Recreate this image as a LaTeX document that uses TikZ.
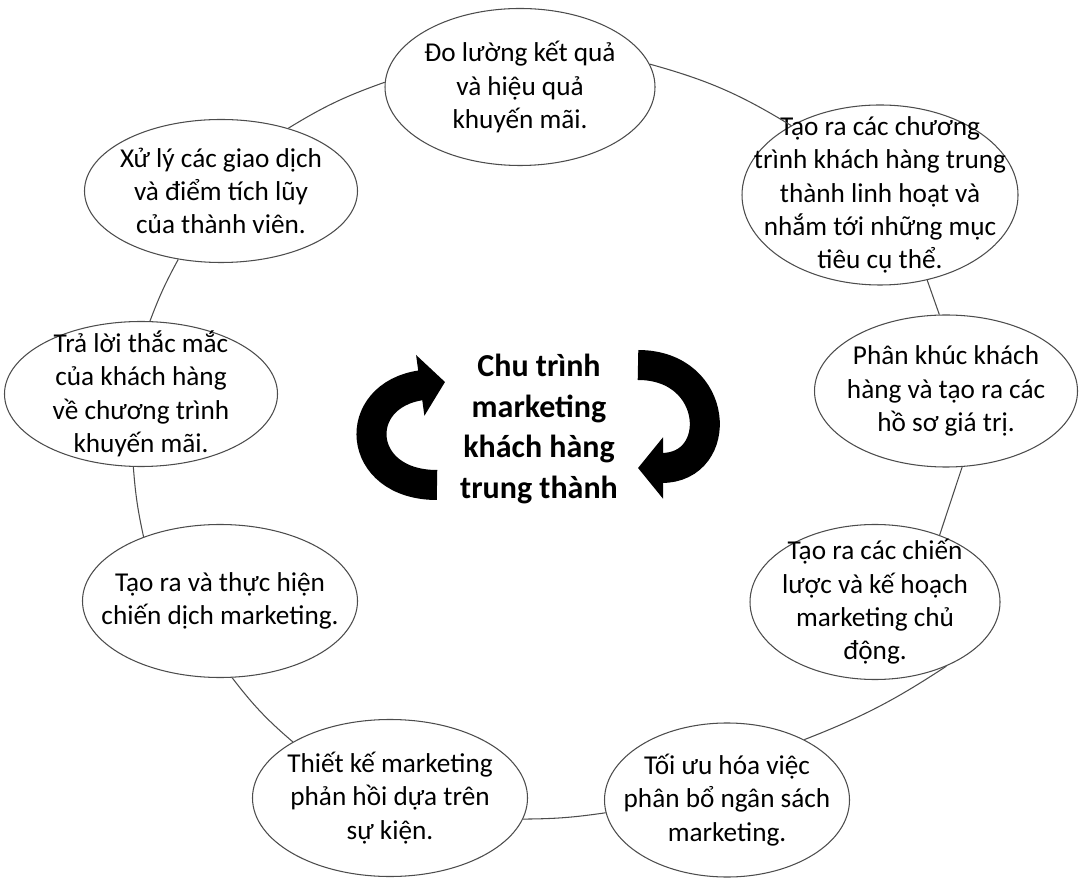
\documentclass[tikz,border=0pt]{standalone}
\usepackage{fontspec}
\setmainfont{Carlito}
\usepackage{tikz}
\usetikzlibrary{shapes.geometric}
\usetikzlibrary{arrows.meta}

\tikzset{stage/.style={ellipse,draw=black!70,line width=0.6pt,fill=white,
  inner xsep=-8mm,inner ysep=-6mm,
  align=center,font=\fontsize{15.5}{19}\selectfont},
  ring/.style={draw=black!70,line width=0.6pt},
  turn/.style={line width=6mm,-{Triangle[length=5mm,width=12mm]}}}

\begin{document}
\begin{tikzpicture}
\useasboundingbox (0,0) rectangle (21.72,17.58);
%\usetikzlibrary{shapes.geometric}
\path (10.40,15.84) node(a)[stage,minimum width=5.4cm,minimum height=3.14cm]{Đo lường kết quả\\và hiệu quả\\khuyến mãi.}
(17.60,13.68) node(b)[stage,minimum width=5.52cm,minimum height=3.6cm]{Tạo ra các chương\\trình khách hàng trung\\thành linh hoạt và\\nhắm tới những mục\\tiêu cụ thể.}
(18.92,9.76) node(c)[stage,minimum width=5.26cm,minimum height=3.04cm]{Phân khúc khách\\hàng và tạo ra các\\hồ sơ giá trị.}
(17.50,5.54) node(d)[stage,minimum width=5.0cm,minimum height=3.1cm]{Tạo ra các chiến\\lược và kế hoạch\\marketing chủ\\động.}
(14.54,1.58) node(e)[stage,minimum width=4.9cm,minimum height=3.08cm]{Tối ưu hóa việc\\phân bổ ngân sách\\marketing.}
(7.80,1.62) node(f)[stage,minimum width=5.5cm,minimum height=3.14cm]{Thiết kế marketing\\phản hồi dựa trên\\sự kiện.}
(4.40,5.56) node(g)[stage,minimum width=5.5cm,minimum height=3.06cm]{Tạo ra và thực hiện\\chiến dịch marketing.}
(2.82,9.70) node(h)[stage,minimum width=5.46cm,minimum height=2.9cm]{Trả lời thắc mắc\\của khách hàng\\về chương trình\\khuyến mãi.}
(4.42,13.76) node(i)[stage,minimum width=5.46cm,minimum height=2.86cm]{Xử lý các giao dịch\\và điểm tích lũy\\của thành viên.};

% vong noi
\draw[ring] (a.10) to[bend left=8] (b.142);
\draw[ring] (b.-61) to (c.95);
\draw[ring] (c.-78) to (d.46);
\draw[ring] (d.-42) to[bend left=6] (e.38);
\draw[ring] (e.186) to[bend left=4] (f.-9);
\draw[ring] (f.150) to[bend left=6] (g.-81);
\draw[ring] (g.140) to[bend left=4] (h.-96);
\draw[ring] (h.83) to[bend left=4] (i.-122);
\draw[ring] (i.43) to[bend left=6] (a.178);

\node(center) at (10.78,9.0) [align=center,font=\bfseries\fontsize{18.2}{23}\selectfont]{Chu trình\\marketing\\khách hàng\\trung thành};
\draw[turn] (8.74,7.88) .. controls (7.10,7.88) and (7.00,9.68) .. (8.90,9.94);
\draw[turn] (12.76,10.28) .. controls (14.40,10.28) and (14.50,8.22) .. (12.76,8.22);
\end{tikzpicture}
\end{document}
